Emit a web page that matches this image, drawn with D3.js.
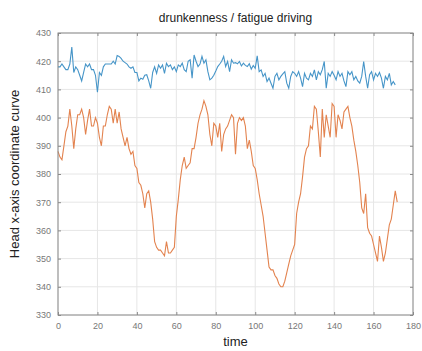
<!DOCTYPE html>
<html>
<head>
<meta charset="utf-8">
<script src="https://cdn.jsdelivr.net/npm/d3@7"></script>
<style>
  body { margin: 0; background: #fff; }
  svg { display: block; font-family: "Liberation Sans", Arial, sans-serif; }
</style>
</head>
<body>
<svg id="chart" width="422" height="351"></svg>
<script>
// head x-coordinate, one reading per time step (blue = normal, orange = drunk/fatigued)
const blueValues = [
  418, 418, 419, 418, 417, 417, 419, 425, 416, 418, 417, 415, 413, 416, 419, 418,
  419, 417, 417, 415, 409, 416, 415, 418, 419, 419, 419, 419, 420, 419, 422, 421.7,
  421, 420, 419.5, 419, 418, 417.5, 418, 416, 416, 413, 414, 413.6, 415, 415.2,
  413, 410.4, 416, 418, 415.7, 418.7, 417.5, 418.7, 415.7, 419.3, 418.1, 418.7,
  417, 418, 416.3, 418.7, 418.1, 419.3, 417, 416.3, 420, 420.5, 414, 422.2, 420,
  418.1, 419, 421.7, 419.3, 420.5, 416.3, 413.4, 414, 415, 416.5, 418.1, 419, 420,
  421.7, 418.1, 419.9, 416.3, 420.5, 419.3, 419.5, 419.1, 419.9, 418.3, 419.3,
  418.5, 418.1, 419.1, 417.2, 418.5, 417.5, 421.9, 416.3, 416.9, 414.6, 415.7,
  412.8, 414, 412.2, 410.4, 414.6, 415.7, 413.4, 414.6, 415.5, 416.3, 412.2, 410.4,
  414.6, 416.3, 415.7, 414.6, 416.3, 414, 411, 415.7, 414, 413.4, 415.7, 414.6,
  416.9, 413.4, 416.3, 415.2, 417, 419.9, 410.4, 415.7, 414.6, 416.3, 415, 413.4,
  416.3, 414.6, 415.7, 413, 411, 416.3, 415.2, 416.3, 413.4, 414.6, 413, 412.2,
  414.6, 419.9, 414.6, 410.4, 415.2, 416.3, 413.4, 415.7, 414.6, 416, 414, 410.4,
  414.6, 413.4, 415.7, 411.6, 412.8, 411.6
];
const orangeValues = [
  388, 386, 385, 390, 395, 397, 403, 397, 389, 396, 401, 401, 403, 400, 394, 399,
  403, 397, 397, 400, 398, 393, 390, 397, 397, 401, 404, 403, 398, 403, 398, 402,
  396, 393, 390, 393, 389, 387, 388, 383, 382, 377, 376, 373, 368, 373, 374, 370,
  364, 356, 354, 353, 353, 352, 351, 356, 352, 352, 353, 354, 365, 371, 378, 383,
  386, 382, 383, 384, 389, 389, 393, 398, 401, 403, 406, 404, 401, 394, 390, 398,
  397, 393, 398, 388, 394, 396, 397, 399, 401, 400, 387, 398, 400, 399, 400, 397,
  389, 392, 388, 383, 382, 378, 373, 369, 365, 359, 353, 347, 346, 346, 344, 343,
  341, 340, 340, 342, 345, 348, 351, 353, 355, 366, 370, 373, 379, 386, 389, 390,
  397, 396, 404, 403, 395, 386, 403, 393, 401, 397, 393, 405, 404, 393, 401, 399,
  396, 402, 403, 404, 400, 397, 392, 388, 383, 377, 368, 366, 373, 361, 359, 358,
  355, 352, 349, 358, 354, 349, 352, 357, 362, 364, 369, 374, 370
];
const xTicks = [0, 20, 40, 60, 80, 100, 120, 140, 160, 180];
const yTicks = [330, 340, 350, 360, 370, 380, 390, 400, 410, 420, 430];

const svg = d3.select('#chart');
const margin = { top: 33, right: 9, bottom: 36, left: 58 };
const width = 422 - margin.left - margin.right;
const height = 351 - margin.top - margin.bottom;

const x = d3.scaleLinear().domain([0, 180]).range([0, width]);
const y = d3.scaleLinear().domain([330, 430]).range([height, 0]);

const g = svg.append('g').attr('transform', `translate(${margin.left},${margin.top})`);

// grid lines
g.append('g')
  .selectAll('line.vg')
  .data(xTicks)
  .enter()
  .append('line')
  .attr('x1', d => x(d)).attr('x2', d => x(d))
  .attr('y1', 0).attr('y2', height)
  .attr('stroke', '#e6e6e6').attr('stroke-width', 1);
g.append('g')
  .selectAll('line.hg')
  .data(yTicks)
  .enter()
  .append('line')
  .attr('x1', 0).attr('x2', width)
  .attr('y1', d => y(d)).attr('y2', d => y(d))
  .attr('stroke', '#e6e6e6').attr('stroke-width', 1);

// lines
const line = d3.line()
  .x((d, i) => x(i))
  .y(d => y(d));

g.append('path')
  .datum(blueValues)
  .attr('fill', 'none')
  .attr('stroke', '#4695c8')
  .attr('stroke-width', 1.1)
  .attr('d', line);

g.append('path')
  .datum(orangeValues)
  .attr('fill', 'none')
  .attr('stroke', '#e3834f')
  .attr('stroke-width', 1.1)
  .attr('d', line);

// axes, ticks pointing inward like matlab
const styleAxis = sel => {
  sel.select('.domain').remove();
  sel.selectAll('.tick line').attr('stroke', '#8a8a8a');
  sel.selectAll('.tick text')
    .attr('fill', '#777')
    .style('font-size', '9px');
};

g.append('g')
  .attr('transform', `translate(0,${height})`)
  .call(d3.axisBottom(x).tickValues(xTicks).tickSizeInner(-3).tickSizeOuter(0).tickPadding(8))
  .call(styleAxis);

g.append('g')
  .call(d3.axisLeft(y).tickValues(yTicks).tickSizeInner(-3).tickSizeOuter(0).tickPadding(7))
  .call(styleAxis);

g.append('g')
  .call(d3.axisTop(x).tickValues(xTicks).tickSizeInner(-3).tickSizeOuter(0).tickFormat(''))
  .call(styleAxis);

g.append('g')
  .attr('transform', `translate(${width},0)`)
  .call(d3.axisRight(y).tickValues(yTicks).tickSizeInner(-3).tickSizeOuter(0).tickFormat(''))
  .call(styleAxis);

// box
g.append('rect')
  .attr('width', width).attr('height', height)
  .attr('fill', 'none')
  .attr('stroke', '#8a8a8a')
  .attr('stroke-width', 1);

// title and labels
svg.append('text')
  .attr('x', margin.left + width / 2)
  .attr('y', 22)
  .attr('text-anchor', 'middle')
  .style('font-size', '12px')
  .attr('fill', '#222')
  .text('drunkenness / fatigue driving');

svg.append('text')
  .attr('x', margin.left + width / 2)
  .attr('y', 346)
  .attr('text-anchor', 'middle')
  .style('font-size', '13px')
  .attr('fill', '#222')
  .text('time');

svg.append('text')
  .attr('transform', `translate(19,${margin.top + height / 2}) rotate(-90)`)
  .attr('text-anchor', 'middle')
  .style('font-size', '13px')
  .attr('fill', '#222')
  .text('Head x-axis coordinate curve');
</script>
</body>
</html>
